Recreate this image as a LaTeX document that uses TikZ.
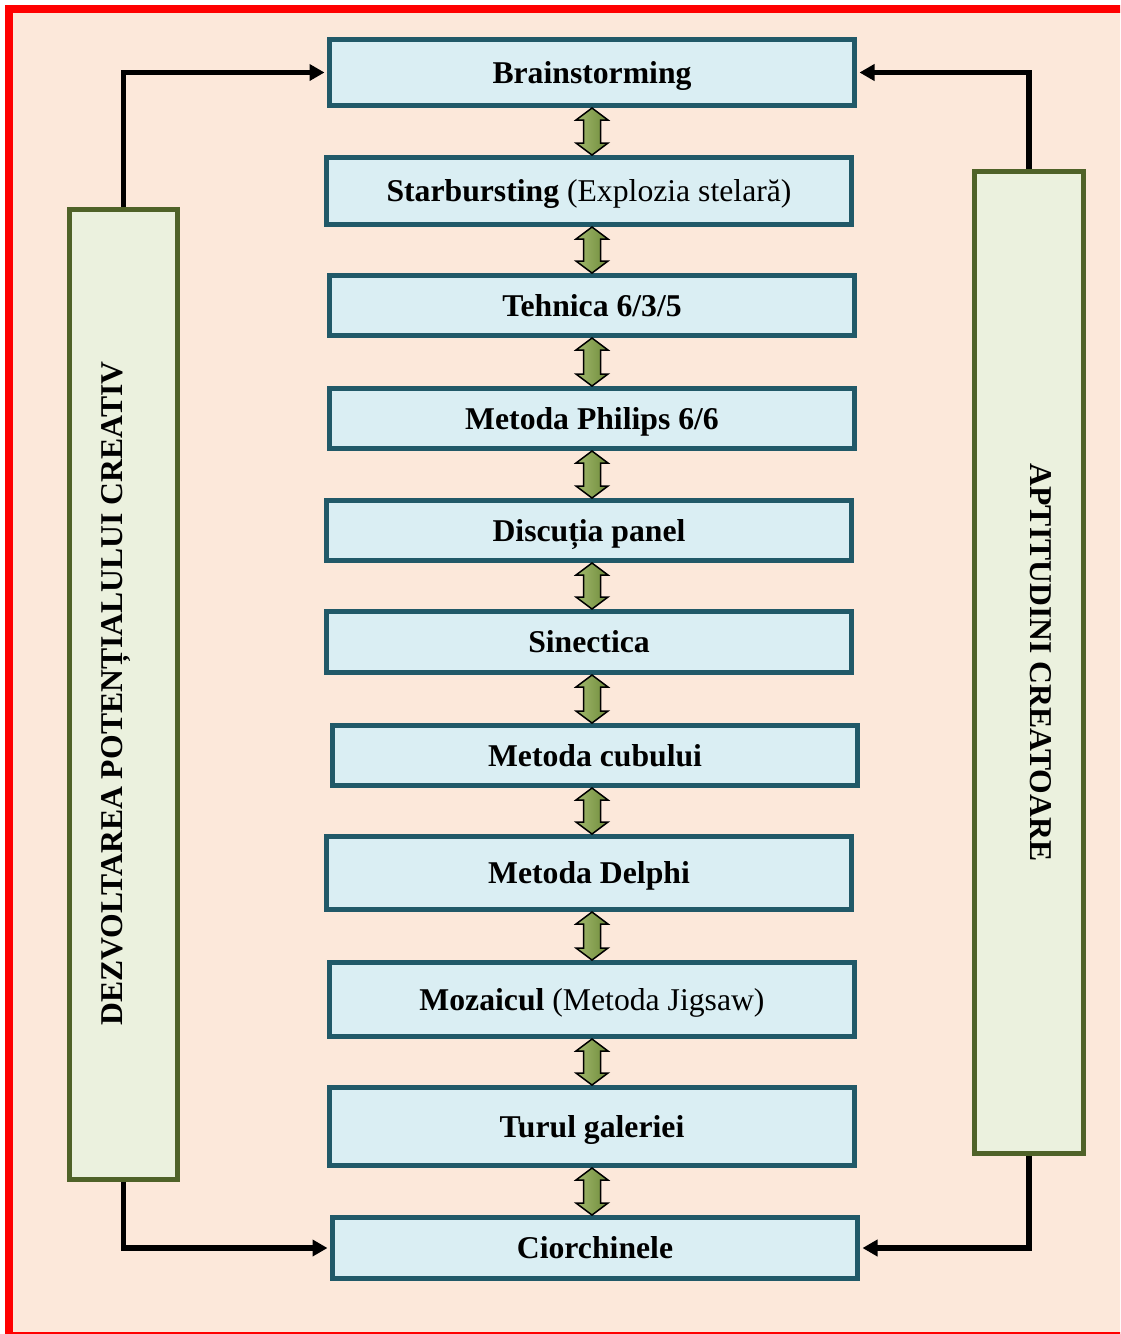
\documentclass[tikz,border=0pt]{standalone}
\usepackage{fontspec}
\setmainfont{Liberation Serif}
\usetikzlibrary{calc,arrows.meta}
\definecolor{bgpeach}{HTML}{FCE8DA}
\definecolor{boxblue}{HTML}{DAEEF3}
\definecolor{boxedge}{HTML}{215968}
\definecolor{sidefill}{HTML}{EBF1DE}
\definecolor{sideedge}{HTML}{4F6228}
\definecolor{arrlight}{HTML}{A3B96E}
\definecolor{arrdark}{HTML}{6E8B3A}
\newcommand\dblarrow[2]{%
  \path[dblar] let \p1=(#1.south), \p2=(#2.north), \p0=(ax) in
   (\x0,\y1) -- (\x0+16pt,\y1-12pt) -- (\x0+8.5pt,\y1-12pt) -- (\x0+8.5pt,\y2+12pt)
   -- (\x0+16pt,\y2+12pt) -- (\x0,\y2) -- (\x0-16pt,\y2+12pt) -- (\x0-8.5pt,\y2+12pt)
   -- (\x0-8.5pt,\y1-12pt) -- (\x0-16pt,\y1-12pt) -- cycle;}
\begin{document}
\begin{tikzpicture}[x=1pt,y=-1pt,
  method/.style={draw=boxedge, fill=boxblue, line width=5pt, minimum width=525pt,
     inner sep=0pt, text height=28pt, text depth=7pt,
     font=\fontsize{31.7}{36}\selectfont\bfseries, text=black},
  side/.style={draw=sideedge, fill=sidefill, line width=5pt, inner sep=0pt},
  sidetext/.style={font=\fontsize{31.7}{36}\selectfont\bfseries, inner sep=0pt,
     text height=21pt, text depth=0pt},
  conn/.style={line width=5.5pt, draw=black, shorten >=2.5pt,
     -{Triangle[length=15pt,width=16pt]}},
  dblar/.style={draw=black, line width=1.5pt, line join=miter, left color=arrlight, right color=arrdark}]
\path[use as bounding box] (0,0) rectangle (1120,1334);
\clip (0,0) rectangle (1120,1334);
\fill[white] (0,0) rectangle (1120,1334);
\draw[draw=red, fill=bgpeach, line width=8pt] (9,9) rectangle (1126,1336);

\coordinate (ax) at (592,0);

% method boxes
\node[method, minimum height=66pt] (b1)  at (592,72.5)   {Brainstorming};
\node[method, minimum height=67pt] (b2)  at (589,191)    {Starbursting \mdseries(Explozia stelară)};
\node[method, minimum height=60pt] (b3)  at (592,305.5)  {Tehnica 6/3/5};
\node[method, minimum height=60pt] (b4)  at (592,418.5)  {Metoda Philips 6/6};
\node[method, minimum height=60pt] (b5)  at (589,530.5)  {Discuția panel};
\node[method, minimum height=61pt] (b6)  at (589,642)    {Sinectica};
\node[method, minimum height=60pt] (b7)  at (595,755.5)  {Metoda cubului};
\node[method, minimum height=73pt] (b8)  at (589,873)    {Metoda Delphi};
\node[method, minimum height=74pt] (b9)  at (592,999.5)  {Mozaicul \mdseries(Metoda Jigsaw)};
\node[method, minimum height=78pt] (b10) at (592,1126.5) {Turul galeriei};
\node[method, minimum height=61pt] (b11) at (595,1248)   {Ciorchinele};

% side boxes
\node[side, minimum width=108pt, minimum height=970pt] (L) at (123.5,694.5) {};
\node[side, minimum width=109pt, minimum height=982pt] (R) at (1029,662.5) {};
\node[sidetext, rotate=90]  (Lt) at (111.5,693.5) {DEZVOLTAREA POTENȚIALULUI CREATIV};
\node[sidetext, rotate=-90] (Rt) at (1041,662.5) {APTITUDINI CREATOARE};

% connectors
\draw[conn] (L.north) |- (b1.west);
\draw[conn] (L.south) |- (b11.west);
\draw[conn] (R.north) |- (b1.east);
\draw[conn] (R.south) |- (b11.east);

% double arrows
\dblarrow{b1}{b2}
\dblarrow{b2}{b3}
\dblarrow{b3}{b4}
\dblarrow{b4}{b5}
\dblarrow{b5}{b6}
\dblarrow{b6}{b7}
\dblarrow{b7}{b8}
\dblarrow{b8}{b9}
\dblarrow{b9}{b10}
\dblarrow{b10}{b11}
\end{tikzpicture}
\end{document}
